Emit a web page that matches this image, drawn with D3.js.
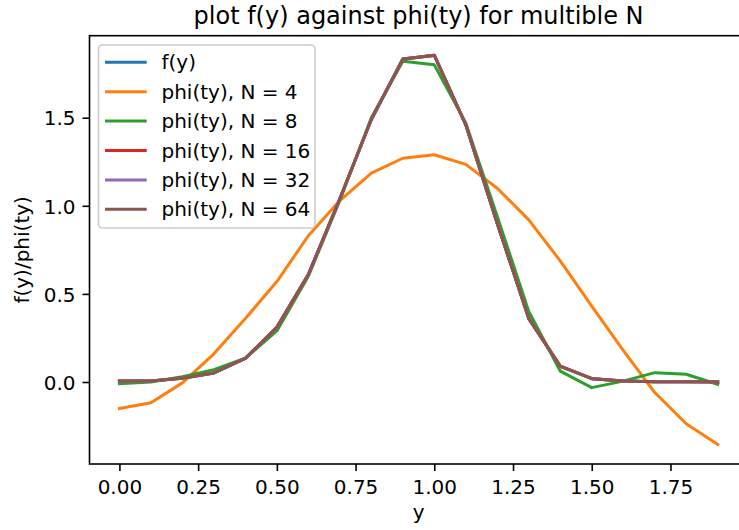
<!DOCTYPE html>
<html>
<head>
<meta charset="utf-8">
<script src="https://cdn.jsdelivr.net/npm/d3@7"></script>
<style>
  body { margin: 0; background: #fff; }
  text { font-family: "DejaVu Sans", sans-serif; fill: #000; }
</style>
</head>
<body>
<svg id="chart"></svg>
<script>
// sample points on the y axis
const ys = [0.0, 0.1, 0.2, 0.3, 0.4, 0.5, 0.6, 0.7, 0.8, 0.9,
            1.0, 1.1, 1.2, 1.3, 1.4, 1.5, 1.6, 1.7, 1.8, 1.9];

// values
const fy    = [0.004, 0.006, 0.021, 0.051, 0.134, 0.31, 0.61, 1.04, 1.49, 1.833, 1.855, 1.46, 0.90, 0.36, 0.09, 0.019, 0.005, 0.002, 0.001, 0.0];
const phi4  = [-0.15, -0.118, -0.005, 0.16, 0.36, 0.57, 0.83, 1.03, 1.185, 1.27, 1.29, 1.235, 1.10, 0.92, 0.687, 0.43, 0.18, -0.06, -0.237, -0.355];
const phi8  = [-0.01, 0.0, 0.03, 0.07, 0.135, 0.29, 0.60, 1.03, 1.50, 1.82, 1.80, 1.47, 0.94, 0.40, 0.062, -0.032, 0.005, 0.053, 0.044, -0.013];
const phi16 = [0.006, 0.006, 0.022, 0.052, 0.135, 0.31, 0.61, 1.04, 1.49, 1.832, 1.853, 1.46, 0.90, 0.362, 0.089, 0.02, 0.005, 0.002, 0.002, 0.001];
const phi32 = [0.005, 0.006, 0.021, 0.051, 0.134, 0.31, 0.61, 1.04, 1.49, 1.833, 1.855, 1.46, 0.90, 0.36, 0.09, 0.019, 0.005, 0.002, 0.001, 0.0];
const phi64 = [0.005, 0.006, 0.021, 0.051, 0.134, 0.31, 0.61, 1.04, 1.49, 1.833, 1.855, 1.46, 0.90, 0.36, 0.09, 0.019, 0.005, 0.002, 0.001, 0.0];

const seriesNames = ['f(y)', 'phi(ty), N = 4', 'phi(ty), N = 8', 'phi(ty), N = 16', 'phi(ty), N = 32', 'phi(ty), N = 64'];
const seriesValues = [fy, phi4, phi8, phi16, phi32, phi64];
const colors = ['#1f77b4', '#ff7f0e', '#2ca02c', '#d62728', '#9467bd', '#8c564b'];

const xTicks = [0.0, 0.25, 0.5, 0.75, 1.0, 1.25, 1.5, 1.75];
const yTicks = [0.0, 0.5, 1.0, 1.5];

const width = 739, height = 530;
const plot = {left: 89.5, right: 747.6, top: 35.7, bottom: 464};

const svg = d3.select('#chart').attr('width', width).attr('height', height);

// matplotlib style 5% margins
const pad = (lo, hi) => [lo - (hi - lo) * 0.05, hi + (hi - lo) * 0.05];
const allVals = seriesValues.flat();
const xScale = d3.scaleLinear().domain(pad(d3.min(ys), d3.max(ys))).range([plot.left, plot.right]);
const yScale = d3.scaleLinear().domain(pad(d3.min(allVals), d3.max(allVals))).range([plot.bottom, plot.top]);

const xAxis = d3.axisBottom(xScale).tickValues(xTicks).tickFormat(d3.format('.2f')).tickSizeInner(7).tickSizeOuter(0).tickPadding(7);
const yAxis = d3.axisLeft(yScale).tickValues(yTicks).tickFormat(d3.format('.1f')).tickSizeInner(7).tickSizeOuter(0).tickPadding(7);

// lines, clipped to the axes box
svg.append('clipPath').attr('id', 'clip')
  .append('rect')
  .attr('x', plot.left).attr('y', plot.top)
  .attr('width', plot.right - plot.left).attr('height', plot.bottom - plot.top);

const line = d3.line().x((d, i) => xScale(ys[i])).y(d => yScale(d));

svg.append('g').attr('clip-path', 'url(#clip)')
  .selectAll('path.series')
  .data(seriesValues)
  .join('path')
  .attr('class', 'series')
  .attr('d', line)
  .attr('fill', 'none')
  .attr('stroke', (d, i) => colors[i])
  .attr('stroke-width', 3)
  .attr('stroke-linejoin', 'round')
  .attr('stroke-linecap', 'square');

// spines
const spine = svg.append('g').attr('stroke', '#000').attr('stroke-width', 1.6).attr('fill', 'none');
spine.append('rect')
  .attr('x', plot.left).attr('y', plot.top)
  .attr('width', plot.right - plot.left).attr('height', plot.bottom - plot.top);

const xAxisG = svg.append('g').attr('transform', `translate(0,${plot.bottom})`).call(xAxis);
const yAxisG = svg.append('g').attr('transform', `translate(${plot.left},0)`).call(yAxis);
[xAxisG, yAxisG].forEach(g => {
  g.select('.domain').remove();
  g.selectAll('.tick line').attr('stroke', '#000').attr('stroke-width', 1.6);
  g.selectAll('.tick text').attr('font-size', 20).attr('font-family', '"DejaVu Sans", sans-serif').attr('fill', '#000');
});
xAxisG.selectAll('.tick text').attr('dy', null).attr('y', 30);
yAxisG.selectAll('.tick text').attr('dy', '0.36em');

// title and axis labels
svg.append('text')
  .attr('x', (plot.left + plot.right) / 2).attr('y', 24)
  .attr('text-anchor', 'middle').attr('font-size', 24)
  .text('plot f(y) against phi(ty) for multible N');

svg.append('text')
  .attr('x', (plot.left + plot.right) / 2).attr('y', 519)
  .attr('text-anchor', 'middle').attr('font-size', 20)
  .text('y');

svg.append('text')
  .attr('transform', `translate(29,${(plot.top + plot.bottom) / 2}) rotate(-90)`)
  .attr('text-anchor', 'middle').attr('font-size', 20)
  .text('f(y)/phi(ty)');

// legend
const legend = svg.append('g');
legend.append('rect')
  .attr('x', 98.5).attr('y', 45).attr('width', 216.5).attr('height', 183)
  .attr('rx', 4).attr('ry', 4)
  .attr('fill', '#fff').attr('fill-opacity', 0.8)
  .attr('stroke', '#cccccc').attr('stroke-width', 1.6);

const rows = legend.selectAll('g.row')
  .data(seriesNames)
  .join('g')
  .attr('class', 'row')
  .attr('transform', (d, i) => `translate(0,${62.3 + i * 29.4})`);

rows.append('line')
  .attr('x1', 105).attr('x2', 146.7)
  .attr('stroke', (d, i) => colors[i])
  .attr('stroke-width', 3);

rows.append('text')
  .attr('x', 161.5).attr('y', 7)
  .attr('font-size', 20)
  .text(d => d);
</script>
</body>
</html>
